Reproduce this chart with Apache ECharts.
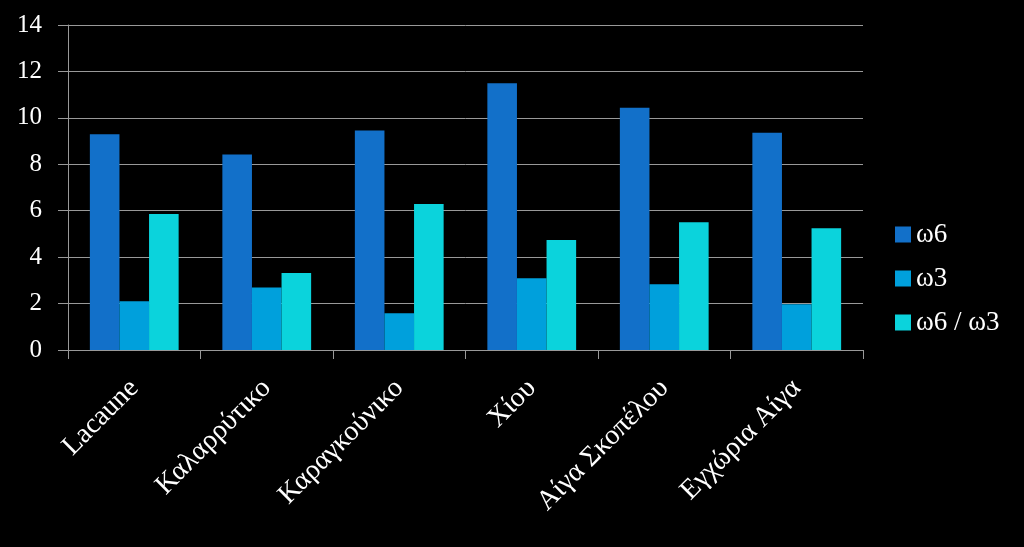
<!DOCTYPE html>
<html>
<head>
<meta charset="utf-8">
<script src="https://cdn.jsdelivr.net/npm/echarts@6/dist/echarts.min.js"></script>
<style>html,body{margin:0;padding:0;background:#000;}#c{width:1024px;height:547px;}</style>
</head>
<body>
<div id="c"></div>
<script>
var categories = ['Lacaune', 'Καλαρρύτικο', 'Καραγκούνικο', 'Χίου', 'Αίγα Σκοπέλου', 'Εγχώρια Αίγα'];
var seriesNames = ['ω6', 'ω3', 'ω6 / ω3'];
var omega6 = [9.29, 8.42, 9.46, 11.49, 10.44, 9.36];
var omega3 = [2.10, 2.69, 1.58, 3.09, 2.83, 1.97];
var ratio = [5.86, 3.32, 6.29, 4.74, 5.50, 5.24];
var colors = ['#1270C9', '#00A0DC', '#0BD3DC'];

var chart = echarts.init(document.getElementById('c'));
var font = 'Liberation Serif';
chart.setOption({
  backgroundColor: '#000',
  animation: false,
  color: colors,
  grid: { left: 68, right: 161, top: 25, bottom: 197, containLabel: false },
  legend: {
    orient: 'vertical',
    left: 890,
    top: 216,
    itemWidth: 16,
    itemHeight: 16,
    itemGap: 17,
    icon: 'rect',
    textStyle: { color: '#fff', fontSize: 27, fontFamily: font },
    data: seriesNames
  },
  xAxis: {
    type: 'category',
    data: categories,
    axisLine: { lineStyle: { color: '#999', width: 1 } },
    axisTick: { show: true, length: 9, lineStyle: { color: '#999' } },
    axisLabel: { color: '#fff', fontSize: 28, fontFamily: font, rotate: 45, margin: 34, interval: 0 }
  },
  yAxis: {
    type: 'value',
    min: 0,
    max: 14,
    interval: 2,
    axisLine: { show: true, lineStyle: { color: '#999' } },
    axisTick: { show: true, length: 10, lineStyle: { color: '#999' } },
    splitLine: { lineStyle: { color: '#999', width: 1 } },
    axisLabel: { color: '#fff', fontSize: 25, fontFamily: font, margin: 26 }
  },
  series: [
    { name: seriesNames[0], type: 'bar', data: omega6, barGap: '0%', barCategoryGap: '33%' },
    { name: seriesNames[1], type: 'bar', data: omega3, barGap: '0%', barCategoryGap: '33%' },
    { name: seriesNames[2], type: 'bar', data: ratio, barGap: '0%', barCategoryGap: '33%' }
  ]
});
</script>
</body>
</html>
